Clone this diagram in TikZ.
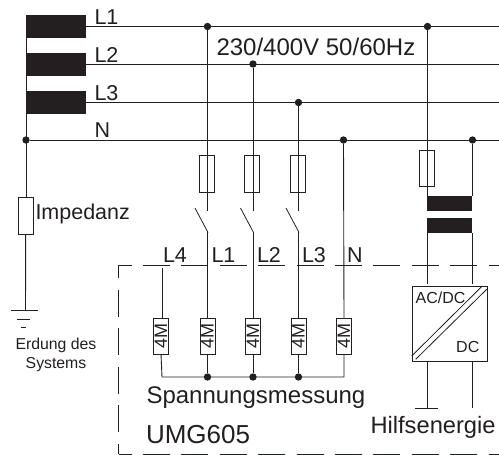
\documentclass[tikz,border=0pt]{standalone}
\usepackage{fontspec}
\setmainfont{Liberation Sans}
\definecolor{ink}{HTML}{231F20}
\newcommand{\fs}[1]{\fontsize{#1}{#1}\selectfont}
\tikzset{
  wire/.style={draw=ink,line width=0.9pt},
  thinwire/.style={draw=ink,line width=0.8pt},
  dot/.style={circle,fill=ink,draw=none,minimum size=7.4pt,inner sep=0pt,outer sep=0pt},
  coilbar/.style={rectangle,fill=ink,draw=none,inner sep=0pt,outer sep=0pt},
  fusebox/.style={rectangle,draw=ink,line width=0.8pt,minimum width=15pt,minimum height=37pt,inner sep=0pt,outer sep=0pt},
  resbox/.style={rectangle,draw=ink,line width=0.8pt,minimum width=15pt,minimum height=36pt,inner sep=0pt,outer sep=0pt,fill=white},
  lab/.style={anchor=base west,inner sep=0pt,outer sep=0pt,text=ink,font=\fs{21.5}},
  big/.style={anchor=base west,inner sep=0pt,outer sep=0pt,text=ink,font=\fs{24}},
  small/.style={anchor=base,inner sep=0pt,outer sep=0pt,text=ink,font=\fs{15.8}},
  boundary/.style={draw=ink,line width=0.8pt,dash pattern=on 27pt off 11.4pt},
}
\begin{document}
\begin{tikzpicture}[x=1pt,y=-1pt]
\useasboundingbox (0,0) rectangle (499,455);
% supply coils
\node[coilbar,minimum width=60pt,minimum height=23pt] (c1) at (56,26.5) {};
\node[coilbar,minimum width=60pt,minimum height=23pt] (c2) at (56,64.5) {};
\node[coilbar,minimum width=60pt,minimum height=23pt] (c3) at (56,102.5) {};
% bus ends
\coordinate (e1) at (499,26.5);
\coordinate (e2) at (499,64);
\coordinate (e3) at (499,102.5);
\coordinate (e4) at (499,140);
% dots on buses
\node[dot] (n0) at (26,140) {};
\node[dot] (d1) at (207.5,26.5) {};
\node[dot] (d2) at (253,64) {};
\node[dot] (d3) at (298.5,102.5) {};
\node[dot] (dn) at (343.5,140) {};
\node[dot] (a1) at (427.5,26.5) {};
\node[dot] (a2) at (472.5,140) {};
\draw[wire] (c1.east) -- (e1);
\draw[wire] (86,64) -- (e2);
\draw[wire] (86,102.5) -- (e3);
\draw[wire] (n0) -- (e4);
\draw[wire] (26,15) -- (26,197);
% impedance & earth
\node[fusebox] (imp) at (25.7,215.5) {};
\coordinate (g1) at (25.5,310);
\draw[wire] (imp.south) -- (g1);
\draw[wire] (10.5,310) -- (38,310);
\draw[wire] (17,319) -- (30,319);
\draw[wire] (21,327) -- (26,327);
% fuses
\node[fusebox] (f1) at (207,173.5) {};
\node[fusebox] (f2) at (252,173.5) {};
\node[fusebox] (f3) at (297.7,173.5) {};
\node[fusebox,minimum height=36pt] (f4) at (427.3,168) {};
% switch coordinates
\coordinate (s1) at (207.5,210.5);
\coordinate (s2) at (253,210.5);
\coordinate (s3) at (298.5,210.5);
\draw[wire] (d1) -- (s1);
\draw[wire] (d2) -- (s2);
\draw[wire] (d3) -- (s3);
\draw[thinwire] (195,208) -- (208,232.5);
\draw[thinwire] (240.5,208) -- (253.5,232.5);
\draw[thinwire] (286,208) -- (299,232.5);
% resistors
\node[resbox] (r0) at (161,336) {};
\node[resbox] (r1) at (207.5,336) {};
\node[resbox] (r2) at (253,336) {};
\node[resbox] (r3) at (298.5,336) {};
\node[resbox] (r4) at (344,336) {};
\coordinate (t0) at (162,268);
\draw[wire] (t0) -- (162,318);
\draw[wire] (207.5,232) -- (r1.north);
\draw[wire] (253,232) -- (r2.north);
\draw[wire] (298.5,232) -- (r3.north);
\draw[wire] (dn) -- (r4.north);
\foreach \n in {r0,r1,r2,r3,r4}
  \node[rotate=90,inner sep=0pt,text=ink,font=\fs{18}] at (\n) {4M};
% measurement bus
\node[dot] (b1) at (207.5,377) {};
\node[dot] (b2) at (253,377) {};
\node[dot] (b3) at (298.5,377) {};
\draw[wire] (r0.south) -- (162,377) -- (344,377) -- (r4.south);
\draw[wire] (r1.south) -- (b1);
\draw[wire] (r2.south) -- (b2);
\draw[wire] (r3.south) -- (b3);
% auxiliary
\draw[wire] (a1) -- (427.5,196);
\draw[wire] (a2) -- (472.5,196);
\node[coilbar,minimum width=45pt,minimum height=15pt] (t1) at (449.5,203.5) {};
\node[coilbar,minimum width=45pt,minimum height=15pt] (t2) at (449.5,225.5) {};
\node[rectangle,draw=ink,line width=0.8pt,minimum width=75pt,minimum height=75pt,inner sep=0pt,outer sep=0pt] (conv) at (449.5,323.5) {};
\draw[wire] (427.5,233) -- (427.5,284);
\draw[wire] (472,233) -- (472,284);
\draw[thinwire] (411.7,356) -- (482.3,286);
\draw[thinwire] (415.7,359.3) -- (486.7,289.3);
\coordinate (h1) at (427,408);
\coordinate (h2) at (472,408);
\draw[wire] (427,361) -- (h1);
\draw[wire] (472,361) -- (h2);
\draw[wire] (415,408) -- (438,408);
% boundary
\draw[thinwire] (132,265) -- (118.5,265) -- (118.5,278);
\draw[boundary] (143,265) -- (499,265);
\draw[boundary] (118.5,290) -- (118.5,454);
\draw[thinwire] (118.5,454) -- (132,454);
\draw[boundary] (143,454) -- (499,454);
% labels
\node[lab] (tL1) at (94.5,24) {L1};
\node[lab] (tL2) at (94.5,62) {L2};
\node[lab] (tL3) at (94.5,100) {L3};
\node[lab] (tN) at (94.5,137) {N};
\node[big] (volt) at (216.5,55) {230/400V 50/60Hz};
\node[lab] (timp) at (35.5,219.5) {Impedanz};
\node[small] (terd) at (56,349) {Erdung des};
\node[small] (tsys) at (56,368) {Systems};
\node[lab] (iL4) at (163,262) {L4};
\node[lab] (iL1) at (211.5,262) {L1};
\node[lab] (iL2) at (257,262) {L2};
\node[lab] (iL3) at (302,262) {L3};
\node[lab] (iN) at (347,262) {N};
\node[big] (tsp) at (146.5,403) {Spannungsmessung};
\node[big,font=\fs{26}] (tumg) at (146,443) {UMG605};
\node[big,font=\fs{23.7}] (thilf) at (370.5,433) {Hilfsenergie};
\node[anchor=base west,inner sep=0pt,text=ink,font=\fs{16}] (tac) at (415.5,303) {AC/DC};
\node[anchor=base west,inner sep=0pt,text=ink,font=\fs{16}] (tdc) at (456,352) {DC};
\end{tikzpicture}
\end{document}
